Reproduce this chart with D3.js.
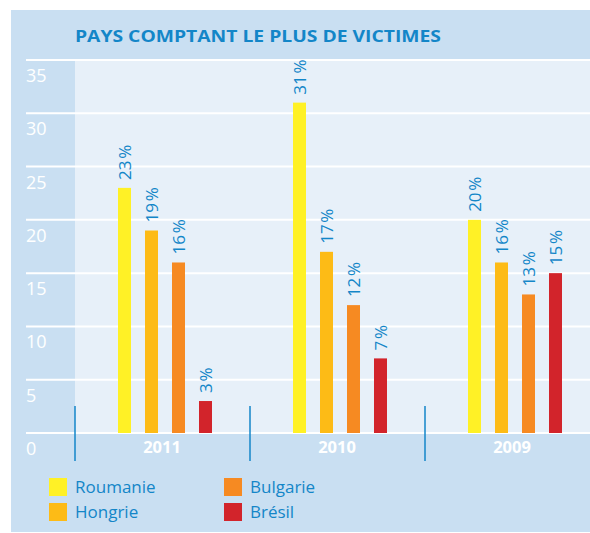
<!DOCTYPE html>
<html>
<head>
<meta charset="utf-8">
<script src="https://cdn.jsdelivr.net/npm/d3@7"></script>
<style>
  body { margin: 0; background: #fff; }
  text { font-family: "Open Sans", "Noto Sans", sans-serif; }
</style>
</head>
<body>
<script>
var years = ["2011", "2010", "2009"];
var countries = ["Roumanie", "Hongrie", "Bulgarie", "Brésil"];
var values2011 = [23, 19, 16, 3];
var values2010 = [31, 17, 12, 7];
var values2009 = [20, 16, 13, 15];
var yTicks = [0, 5, 10, 15, 20, 25, 30, 35];
var colors = ["#fff126", "#fdbb16", "#f68a22", "#d2242b"];

var seriesByYear = [values2011, values2010, values2009];

var width = 590, height = 533;
var svg = d3.select("body").append("svg")
  .attr("width", width)
  .attr("height", height);

var blue = "#1386c8";

// panel
svg.append("rect").attr("x", 11).attr("y", 10).attr("width", 579).attr("height", 522)
  .attr("fill", "#c9dff2");

var plot = { left: 75, right: 590, top: 60, bottom: 433 };

svg.append("rect")
  .attr("x", plot.left).attr("y", plot.top)
  .attr("width", plot.right - plot.left).attr("height", plot.bottom - plot.top)
  .attr("fill", "#e7f0f9");

svg.append("text")
  .attr("x", 75).attr("y", 42)
  .attr("fill", blue)
  .attr("font-weight", "bold")
  .attr("font-size", 16.5)
  .attr("textLength", 366)
  .attr("lengthAdjust", "spacingAndGlyphs")
  .text("PAYS COMPTANT LE PLUS DE VICTIMES");

var y = d3.scaleLinear().domain([0, 35]).range([plot.bottom, 60]);

var x0 = d3.scaleBand().domain(years).range([plot.left, plot.left + 525]);
var x1 = d3.scaleBand().domain(countries).range([43, 137]).paddingInner(14 / 27).paddingOuter(0);

// gridlines
svg.append("g").selectAll("line").data(yTicks).join("line")
  .attr("x1", 26).attr("x2", plot.right)
  .attr("y1", function(d) { return y(d); })
  .attr("y2", function(d) { return y(d); })
  .attr("stroke", "#fff").attr("stroke-width", 2);

// y tick labels
svg.append("g").selectAll("text").data(yTicks).join("text")
  .attr("x", 26)
  .attr("y", function(d) { return y(d) + 22; })
  .attr("fill", "#fff")
  .attr("font-size", 18)
  .text(function(d) { return d; });

// bars
var groups = svg.append("g").selectAll("g").data(years).join("g")
  .attr("transform", function(d) { return "translate(" + x0(d) + ",0)"; });

groups.selectAll("rect")
  .data(function(d, i) { return seriesByYear[i].map(function(v, j) { return { c: countries[j], v: v, k: j }; }); })
  .join("rect")
  .attr("x", function(d) { return x1(d.c); })
  .attr("y", function(d) { return y(d.v); })
  .attr("width", x1.bandwidth())
  .attr("height", function(d) { return plot.bottom - y(d.v); })
  .attr("fill", function(d) { return colors[d.k]; });

groups.selectAll("text.val")
  .data(function(d, i) { return seriesByYear[i].map(function(v, j) { return { c: countries[j], v: v }; }); })
  .join("text")
  .attr("class", "val")
  .attr("transform", function(d) {
    return "translate(" + (x1(d.c) + x1.bandwidth() / 2 + 6.5) + "," + (y(d.v) - 8) + ") rotate(-90)";
  })
  .attr("fill", blue)
  .attr("font-size", 17)
  .text(function(d) { return d.v + "\u200A%"; });

// group dividers
svg.append("g").selectAll("line").data(years).join("line")
  .attr("x1", function(d) { return x0(d); })
  .attr("x2", function(d) { return x0(d); })
  .attr("y1", 406).attr("y2", 461)
  .attr("stroke", blue).attr("stroke-width", 1.5);

// year labels
svg.append("g").selectAll("text").data(years).join("text")
  .attr("x", function(d) { return x0(d) + 87; })
  .attr("y", 453)
  .attr("text-anchor", "middle")
  .attr("fill", "#fff")
  .attr("font-weight", "bold")
  .attr("font-size", 16.5)
  .text(function(d) { return d; });

// legend
var legendPos = [[49, 478], [49, 503], [224, 478], [224, 503]];
var legend = svg.append("g").selectAll("g").data(countries).join("g")
  .attr("transform", function(d, i) { return "translate(" + legendPos[i][0] + "," + legendPos[i][1] + ")"; });
legend.append("rect").attr("width", 18).attr("height", 18)
  .attr("fill", function(d, i) { return colors[i]; });
legend.append("text").attr("x", 26).attr("y", 14.5)
  .attr("fill", blue).attr("font-size", 17)
  .text(function(d) { return d; });
</script>
</body>
</html>
